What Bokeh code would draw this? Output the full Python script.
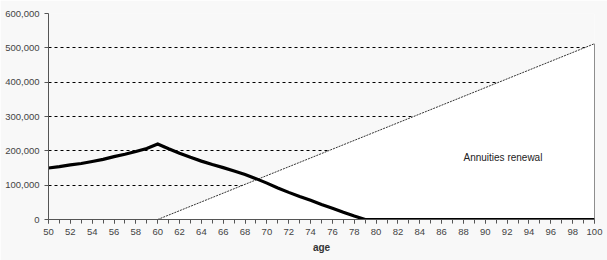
from bokeh.plotting import figure
from bokeh.models import Range1d, FixedTicker, NumeralTickFormatter, Label
from bokeh.embed import file_html
from bokeh.resources import INLINE

# Data
ages = list(range(50, 101))
balance = [150000, 154000, 159000, 163000, 169000, 175000, 183000, 190000, 198000, 207000,
           220000, 206000, 193000, 181000, 170000, 160000, 151000, 141000, 131000, 119000,
           106000, 92000, 79000, 67000, 56000, 44000, 33000, 21000, 10000, 0,
           0, 0, 0, 0, 0, 0, 0, 0, 0, 0,
           0, 0, 0, 0, 0, 0, 0, 0, 0, 0, 0]
annuity_ages = [60, 100]
annuity_values = [0, 512000]
annuity_label = "Annuities renewal"
x_tick_labels = list(range(50, 101, 2))
y_ticks = [0, 100000, 200000, 300000, 400000, 500000, 600000]

bg = "#f8f8f8"
p = figure(width=607, height=260, output_backend="svg", toolbar_location=None,
           x_range=Range1d(50, 100), y_range=Range1d(0, 600000),
           background_fill_color=bg, border_fill_color=bg,
           min_border_left=48, min_border_right=13, min_border_top=13, min_border_bottom=41)
p.outline_line_color = None

# grid
p.xgrid.grid_line_color = None
p.ygrid.ticker = FixedTicker(ticks=y_ticks[1:-1])
p.ygrid.grid_line_color = "black"
p.ygrid.grid_line_dash = "3 3"
p.ygrid.grid_line_width = 1

# annuity area (white, covers grid)
xs = annuity_ages + [annuity_ages[-1]]
ys = annuity_values + [annuity_values[0]]
p.patch(xs, ys, fill_color="white", line_color=None)
p.line(annuity_ages, annuity_values, line_color="#333333", line_width=1, line_dash="2 1")
p.segment(x0=[annuity_ages[-1]], y0=[0], x1=[annuity_ages[-1]], y1=[annuity_values[-1]],
          line_color="#222222", line_width=1)

# balance line
p.line(ages, balance, line_color="black", line_width=3.2, line_join="miter")

p.add_layout(Label(x=88.0, y=180000, text=annuity_label, text_font="Liberation Sans",
                   text_font_size="10px", text_color="#222222", text_baseline="middle"))

# axes
for ax in (p.xaxis[0], p.yaxis[0]):
    ax.axis_line_color = "#555555"
    ax.axis_line_width = 1
    ax.major_tick_line_color = "#555555"
    ax.minor_tick_line_color = "#555555"
    ax.major_tick_out = 4
    ax.major_tick_in = 0
    ax.major_label_text_font = "Liberation Sans"
    ax.major_label_text_font_size = "9.5px"
    ax.major_label_text_color = "#444444"

p.xaxis.ticker = FixedTicker(ticks=x_tick_labels, minor_ticks=ages)
p.xaxis.minor_tick_out = 4
p.xaxis.minor_tick_in = 0
p.xaxis.major_label_standoff = 5
p.xaxis.axis_label = "age"
p.xaxis.axis_label_text_font = "Liberation Sans"
p.xaxis.axis_label_text_font_size = "10px"
p.xaxis.axis_label_text_font_style = "bold"
p.xaxis.axis_label_text_color = "#333333"
p.xaxis.axis_label_standoff = 4

p.yaxis.ticker = FixedTicker(ticks=y_ticks)
p.yaxis.minor_tick_line_color = None
p.yaxis.formatter = NumeralTickFormatter(format="0,0")
p.yaxis.major_label_standoff = 5

open("out.html", "w").write(file_html(p, INLINE))
